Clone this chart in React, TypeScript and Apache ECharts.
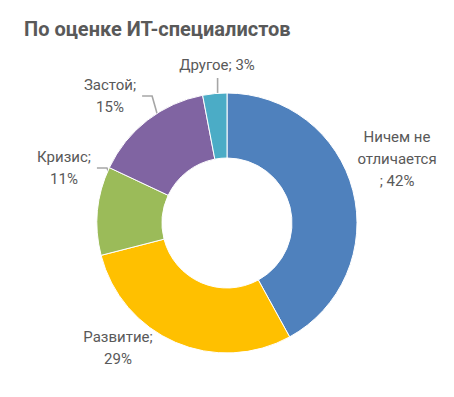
import React, { useEffect, useRef } from "react";
import * as echarts from "echarts";

const title = "По оценке ИТ-специалистов";
const categories = ["Ничем не\nотличается", "Развитие", "Кризис", "Застой", "Другое"];
const values = [42, 29, 11, 15, 3];
const colors = ["#4F81BD", "#FFC000", "#9BBB59", "#8064A2", "#4BACC6"];

// layout (styles / positions of labels)
const separators = ["\n; ", ";\n", ";\n", ";\n", "; "];
const labelPos = [
  [397, 159],
  [118, 348],
  [64, 168],
  [110, 96],
  [217, 65],
];
const showLeader = [false, false, true, true, true];
const CX = 227;
const CY = 223;
const R_IN = 65;
const R_OUT = 130;
const R_LEAD = 100;

export default function App() {
  const ref = useRef<HTMLDivElement>(null);
  useEffect(() => {
    document.body.style.margin = "0";
    const chart = echarts.init(ref.current!, null, { renderer: "svg" });
    const total = values.reduce((a, b) => a + b, 0);
    const midAngles: number[] = [];
    let acc = 0;
    values.forEach((v) => {
      midAngles.push(((acc + v / 2) / total) * Math.PI * 2);
      acc += v;
    });
    const leadEnd = (i: number) => [
      CX + R_LEAD * Math.sin(midAngles[i]),
      CY - R_LEAD * Math.cos(midAngles[i]),
    ];
    chart.setOption({
      animation: false,
      title: {
        text: title,
        left: 19,
        top: 14,
        textStyle: {
          fontFamily: "Roboto",
          fontSize: 20,
          fontWeight: "bold",
          color: "#595959",
        },
      },
      series: [
        {
          type: "pie",
          center: [CX, CY],
          radius: [R_IN, R_OUT],
          startAngle: 90,
          clockwise: true,
          avoidLabelOverlap: false,
          itemStyle: { borderColor: "#ffffff", borderWidth: 1 },
          label: {
            show: true,
            fontFamily: "Roboto",
            fontSize: 15,
            lineHeight: 22,
            color: "#595959",
            align: "center",
            formatter: (p: any) => `${p.name}${separators[p.dataIndex]}${p.value}%`,
          },
          labelLine: {
            show: true,
            lineStyle: { color: "#A6A6A6", width: 1.6 },
          },
          labelLayout: (params: any) => {
            const i = params.dataIndex;
            const [x, y] = labelPos[i];
            const out: any = { x, y, align: "center", verticalAlign: "middle" };
            if (showLeader[i]) {
              const e = leadEnd(i);
              const r = params.labelRect;
              if (i === 4) {
                const top = y + r.height / 2 + 2;
                out.labelLinePoints = [[e[0], top], [e[0], (top + e[1]) / 2], e];
              } else {
                const lx = x + r.width / 2 + 6;
                const ly = y;
                out.labelLinePoints = [[lx, ly], [lx + 10, ly], e];
              }
            }
            return out;
          },
          data: categories.map((name, i) => ({
            name,
            value: values[i],
            itemStyle: { color: colors[i] },
            labelLine: { show: showLeader[i] },
          })),
        },
      ],
    });
    return () => chart.dispose();
  }, []);
  return (
    <div
      ref={ref}
      style={{ position: "fixed", left: 0, top: 0, width: 454, height: 397, background: "#fff" }}
    />
  );
}
